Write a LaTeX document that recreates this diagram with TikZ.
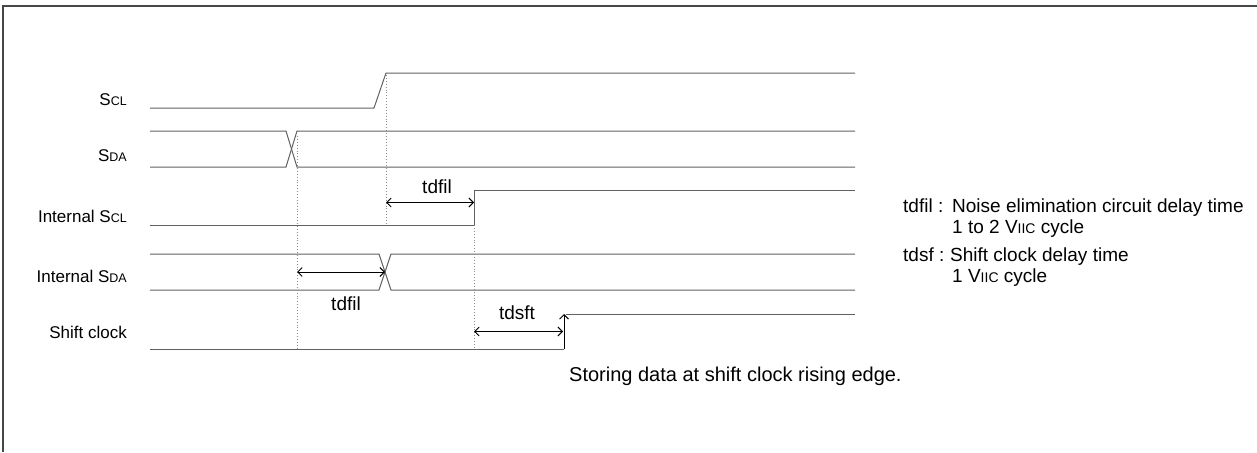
\documentclass[tikz,border=0pt]{standalone}
\usepackage{fontspec}
\setmainfont{Liberation Sans}
\usetikzlibrary{arrows.meta}
\newcommand\mysc[1]{{\fontsize{12.5}{13}\selectfont #1}}
\newcommand\mybigsc[1]{{\fontsize{14}{14}\selectfont #1}}
\begin{document}
\begin{tikzpicture}[x=1pt,y=-1pt,
  sig/.style={draw=black!62, line width=1pt},
  guide/.style={draw=black!45, dotted, line width=0.9pt},
  dimarrow/.style={draw=black, line width=0.9pt, {Straight Barb[length=4.5pt,width=9pt]}-{Straight Barb[length=4.5pt,width=9pt]}},
  uparrow/.style={draw=black, line width=0.9pt, -{Straight Barb[length=4.5pt,width=9pt]}},
  lbl/.style={inner sep=0pt, font=\fontsize{17}{20}\selectfont},
  tlbl/.style={inner sep=0pt, font=\fontsize{19}{22}\selectfont, anchor=base},
  note/.style={inner sep=0pt, font=\fontsize{19}{22}\selectfont, anchor=base west},
  frame/.style={draw=black!72, line width=2pt}]
\useasboundingbox (0,0) rectangle (1257,452);
\draw[frame] (1257,6) -- (3,6) -- (3,452);

% signal labels
\node[lbl, anchor=base east] (lscl) at (127,105) {S\mysc{CL}};
\node[lbl, anchor=base east] (lsda) at (127,161) {S\mysc{DA}};
\node[lbl, anchor=base east] (liscl) at (127,222) {Internal S\mysc{CL}};
\node[lbl, anchor=base east] (lisda) at (127,282) {Internal S\mysc{DA}};
\node[lbl, anchor=base east] (lsh) at (127,338) {Shift clock};

% key coordinates
\coordinate (sclA) at (150,108);
\coordinate (sclB) at (374,108);
\coordinate (sclC) at (386,73);
\coordinate (sclD) at (855,73);

\coordinate (sdaTL) at (150,131);
\coordinate (sdaBL) at (150,167);
\coordinate (sdaT1) at (286,131);
\coordinate (sdaB1) at (286,167);
\coordinate (sdaT2) at (297,131);
\coordinate (sdaB2) at (297,167);
\coordinate (sdaTR) at (855,131);
\coordinate (sdaBR) at (855,167);

\coordinate (isclA) at (150,225);
\coordinate (isclB) at (474,225);
\coordinate (isclC) at (474,190.5);
\coordinate (isclD) at (855,190.5);

\coordinate (isdaTL) at (150,254);
\coordinate (isdaBL) at (150,290);
\coordinate (isdaT1) at (379,254);
\coordinate (isdaB1) at (379,290);
\coordinate (isdaT2) at (391,254);
\coordinate (isdaB2) at (391,290);
\coordinate (isdaTR) at (855,254);
\coordinate (isdaBR) at (855,290);

\coordinate (shA) at (150,349);
\coordinate (shB) at (564,349);
\coordinate (shC) at (564,314);
\coordinate (shC2) at (566,314);
\coordinate (shD) at (855,314);

% signals
\draw[sig] (sclA) -- (sclB) -- (sclC) -- (sclD);
\draw[sig] (sdaTL) -- (sdaT1) -- (sdaB2) -- (sdaBR);
\draw[sig] (sdaBL) -- (sdaB1) -- (sdaT2) -- (sdaTR);
\draw[sig] (isclA) -- (isclB) -- (isclC) -- (isclD);
\draw[sig] (isdaTL) -- (isdaT1) -- (isdaB2) -- (isdaBR);
\draw[sig] (isdaBL) -- (isdaB1) -- (isdaT2) -- (isdaTR);
\draw[sig] (shA) -- (shB);
\draw[sig] (shC2) -- (shD);
\draw[uparrow] (shB) -- (shC);

% guide lines
\coordinate (g1t) at (297,136);
\coordinate (g1b) at (297,349);
\coordinate (g2t) at (386,75);
\coordinate (g2b) at (386,225);
\coordinate (g3t) at (474,225);
\coordinate (g3b) at (474,349);
\draw[guide] (g1t) -- (g1b);
\draw[guide] (g2t) -- (g2b);
\draw[guide] (g3t) -- (g3b);

% dimension arrows
\coordinate (a1l) at (386,202.5);
\coordinate (a1r) at (474,202.5);
\coordinate (a2l) at (297,272);
\coordinate (a2r) at (385,272);
\coordinate (a3l) at (474,331.5);
\coordinate (a3r) at (563,331.5);
\draw[dimarrow] (a1l) -- (a1r);
\draw[dimarrow] (a2l) -- (a2r);
\draw[dimarrow] (a3l) -- (a3r);

\node[tlbl] (t1) at (437,193) {tdfil};
\node[tlbl] (t2) at (346,310) {tdfil};
\node[tlbl] (t3) at (517,319) {tdsft};

\node[note, font=\fontsize{20}{23}\selectfont] (store) at (569,381) {Storing data at shift clock rising edge.};

% notes
\node[note] (n1a) at (903,212) {tdfil :};
\node[note] (n1b) at (952,212) {Noise elimination circuit delay time};
\node[note] (n1c) at (952,233) {1 to 2 V\mybigsc{IIC} cycle};
\node[note] (n2a) at (903,261) {tdsf :};
\node[note] (n2b) at (950,261) {Shift clock delay time};
\node[note] (n2c) at (952,282) {1 V\mybigsc{IIC} cycle};
\end{tikzpicture}
\end{document}
